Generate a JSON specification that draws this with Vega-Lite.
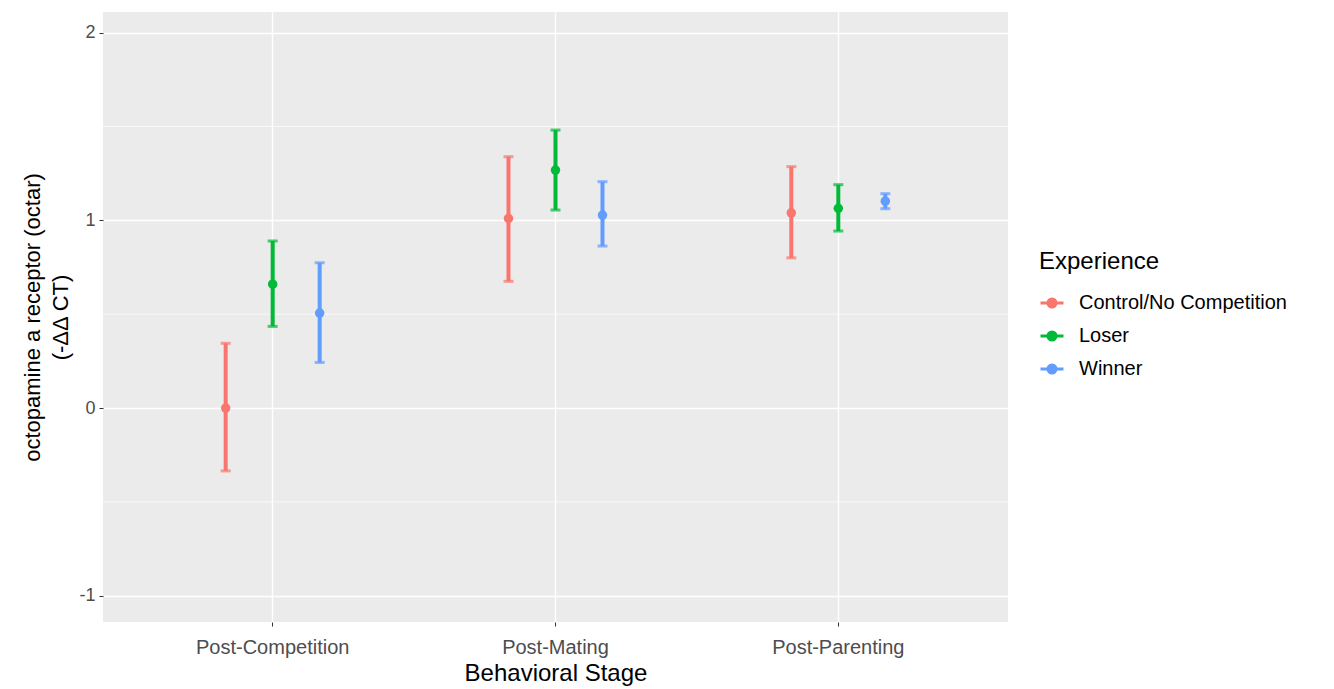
{
  "$schema": "https://vega.github.io/schema/vega-lite/v6.json",
  "width": 905,
  "height": 610,
  "autosize": {"type": "none"},
  "padding": {"left": 103, "top": 12, "right": 326, "bottom": 67},
  "background": "white",
  "config": {
    "font": "Liberation Sans",
    "view": {"fill": "#EBEBEB", "stroke": null}
  },
  "datasets": {
    "stats": [
      {"stage": "Post-Competition", "experience": "Control/No Competition", "mean": 0.0, "lo": -0.335, "hi": 0.345},
      {"stage": "Post-Competition", "experience": "Loser", "mean": 0.66, "lo": 0.435, "hi": 0.89},
      {"stage": "Post-Competition", "experience": "Winner", "mean": 0.506, "lo": 0.243, "hi": 0.774},
      {"stage": "Post-Mating", "experience": "Control/No Competition", "mean": 1.01, "lo": 0.675, "hi": 1.339},
      {"stage": "Post-Mating", "experience": "Loser", "mean": 1.268, "lo": 1.055, "hi": 1.481},
      {"stage": "Post-Mating", "experience": "Winner", "mean": 1.028, "lo": 0.863, "hi": 1.206},
      {"stage": "Post-Parenting", "experience": "Control/No Competition", "mean": 1.04, "lo": 0.80, "hi": 1.286},
      {"stage": "Post-Parenting", "experience": "Loser", "mean": 1.064, "lo": 0.943, "hi": 1.19},
      {"stage": "Post-Parenting", "experience": "Winner", "mean": 1.102, "lo": 1.062, "hi": 1.142}
    ],
    "minor": [{"v": -0.5}, {"v": 0.5}, {"v": 1.5}]
  },
  "layer": [
    {
      "data": {"name": "minor"},
      "mark": {"type": "rule", "color": "white", "strokeWidth": 0.7},
      "encoding": {
        "y": {"field": "v", "type": "quantitative", "scale": {"domain": [-1.14, 2.11], "nice": false, "zero": false}}
      }
    },
    {
      "data": {"name": "stats"},
      "encoding": {
        "x": {
          "field": "stage", "type": "nominal",
          "scale": {"type": "band", "paddingInner": 0, "paddingOuter": 0.1},
          "axis": {
            "title": "Behavioral Stage", "titleFontSize": 24, "titleFontWeight": "normal", "titleColor": "black",
            "titlePadding": 4,
            "labelAngle": 0, "labelFontSize": 20, "labelColor": "#4D4D4D", "labelPadding": 11,
            "bandPosition": 0.5, "grid": true, "gridColor": "white", "gridWidth": 1.4,
            "tickColor": "#333333", "tickSize": 4, "domain": false
          }
        },
        "xOffset": {"field": "experience", "type": "nominal", "scale": {"type": "point", "padding": 0, "range": [94.4, 188.4]}},
        "color": {
          "field": "experience", "type": "nominal",
          "scale": {"domain": ["Control/No Competition", "Loser", "Winner"], "range": ["#F8766D", "#00BA38", "#619CFF"]},
          "legend": {
            "title": "Experience", "titleFontSize": 24, "titleFontWeight": "normal", "titleColor": "black",
            "titlePadding": 16,
            "labelFontSize": 20, "labelColor": "black", "labelOffset": 14, "labelLimit": 400,
            "orient": "none", "legendX": 936, "legendY": 238,
            "rowPadding": 9,
            "symbolType": "M-1,0L1,0M-0.35,0A0.35,0.35 0 1,0 0.35,0A0.35,0.35 0 1,0 -0.35,0Z",
            "symbolSize": 529, "symbolStrokeWidth": 3, "symbolOpacity": 1
          }
        }
      },
      "layer": [
        {
          "mark": {"type": "rule", "strokeWidth": 4},
          "encoding": {
            "y": {
              "field": "lo", "type": "quantitative",
              "scale": {"domain": [-1.14, 2.11], "nice": false, "zero": false},
              "axis": {
                "title": ["octopamine a receptor (octar)", "(-ΔΔ CT)"],
                "titleFontSize": 22, "titleFontWeight": "normal", "titleColor": "black", "titlePadding": 6,
                "titleLineHeight": 28,
                "values": [-1, 0, 1, 2], "format": "d", "labelExpr": "replace(datum.label, '−', '-')",
                "labelFontSize": 18, "labelColor": "#4D4D4D", "labelPadding": 4,
                "grid": true, "gridColor": "white", "gridWidth": 1.4,
                "tickColor": "#333333", "tickSize": 4, "domain": false
              }
            },
            "y2": {"field": "hi"}
          }
        },
        {
          "mark": {"type": "tick", "size": 10, "thickness": 3},
          "encoding": {"y": {"field": "lo", "type": "quantitative"}}
        },
        {
          "mark": {"type": "tick", "size": 10, "thickness": 3},
          "encoding": {"y": {"field": "hi", "type": "quantitative"}}
        },
        {
          "mark": {"type": "point", "filled": true, "size": 90, "opacity": 1},
          "encoding": {"y": {"field": "mean", "type": "quantitative"}}
        }
      ]
    }
  ]
}
